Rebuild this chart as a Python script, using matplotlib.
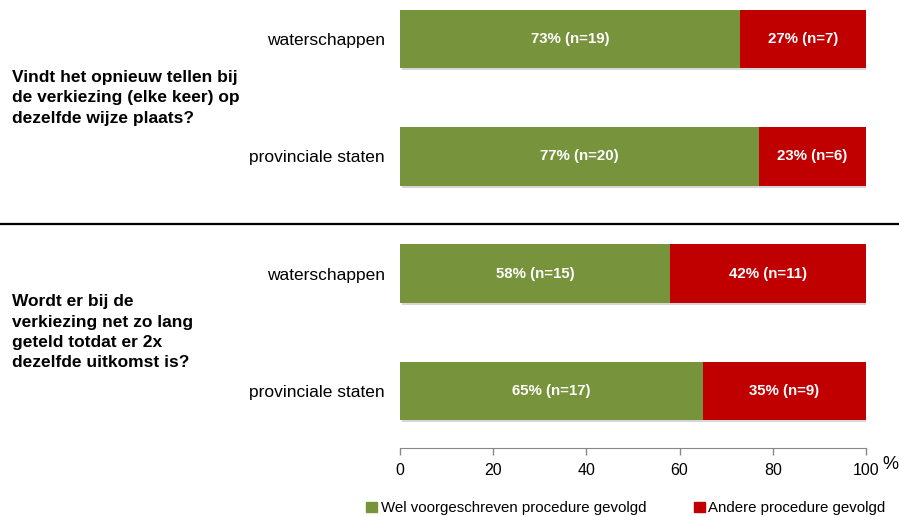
import matplotlib
matplotlib.use("Agg")
import matplotlib.pyplot as plt
from matplotlib.patches import Patch
from matplotlib.lines import Line2D
import matplotlib.patheffects as pe

plt.rcParams['font.family'] = ['Liberation Sans', 'DejaVu Sans']

categories = ["waterschappen", "provinciale staten", "waterschappen", "provinciale staten"]
questions = [
    "Vindt het opnieuw tellen bij\nde verkiezing (elke keer) op\ndezelfde wijze plaats?",
    "Wordt er bij de\nverkiezing net zo lang\ngeteld totdat er 2x\ndezelfde uitkomst is?",
]
wel_pct = [73, 77, 58, 65]
wel_n = [19, 20, 15, 17]
andere_pct = [27, 23, 42, 35]
andere_n = [7, 6, 11, 9]
series_names = ["Wel voorgeschreven procedure gevolgd", "Andere procedure gevolgd"]
xticks = [0, 20, 40, 60, 80, 100]

green = "#77933C"
red = "#C00000"

W, H = 899, 517
fig = plt.figure(figsize=(W / 100, H / 100), dpi=100)
ax = fig.add_axes([400 / W, 1 - 448 / H, 466 / W, 448 / H])

ys = list(range(len(categories)))
shadow = [pe.SimplePatchShadow(offset=(1.5, -1.5), shadow_rgbFace="#999999", alpha=0.4), pe.Normal()]
b1 = ax.barh(ys, wel_pct, height=0.5, color=green)
b2 = ax.barh(ys, andere_pct, left=wel_pct, height=0.5, color=red)
for r in list(b1) + list(b2):
    r.set_path_effects(shadow)

for y, wp, wn, ap, an in zip(ys, wel_pct, wel_n, andere_pct, andere_n):
    ax.text(wp / 2, y, f"{wp}% (n={wn})", ha="center", va="center",
            color="white", fontsize=10.8, fontweight="bold")
    ax.text(wp + ap / 2, y, f"{ap}% (n={an})", ha="center", va="center",
            color="white", fontsize=10.8, fontweight="bold")

ax.set_xlim(0, 100)
ax.set_ylim(3.487, -0.332)
ax.set_yticks(ys)
ax.set_yticklabels(categories, fontsize=12.5)
ax.tick_params(axis="y", length=0, pad=11)
ax.set_xticks(xticks)
ax.set_xticklabels([str(t) for t in xticks], fontsize=11.5)
ax.tick_params(axis="x", length=5, color="#888888", width=1, pad=6)
for s in ["top", "right", "left"]:
    ax.spines[s].set_visible(False)
ax.spines["bottom"].set_color("#888888")

ax.text(1.036, -0.036, "%", transform=ax.transAxes, fontsize=13, ha="left", va="center")

# question texts
for q, (a, b) in zip(questions, [(0, 1), (2, 3)]):
    ax.annotate(q, xy=(12 / W, 0), xycoords=("figure fraction", "data"),
                xytext=(12 / W, (a + b) / 2), textcoords=("figure fraction", "data"),
                ha="left", va="center", fontsize=12.5, fontweight="bold",
                linespacing=1.45)

# separator line
fig.add_artist(Line2D([0, 1], [1 - 224 / H, 1 - 224 / H], color="black", lw=1.6,
                      transform=fig.transFigure))

handles = [Patch(color=green), Patch(color=red)]
fig.legend(handles, series_names, loc="center", bbox_to_anchor=(626 / W, 1 - 508 / H),
           ncol=2, frameon=False, fontsize=10.8, handlelength=0.7, handleheight=0.7,
           handletextpad=0.25, columnspacing=3.2)

fig.savefig("out.png", dpi=100)
